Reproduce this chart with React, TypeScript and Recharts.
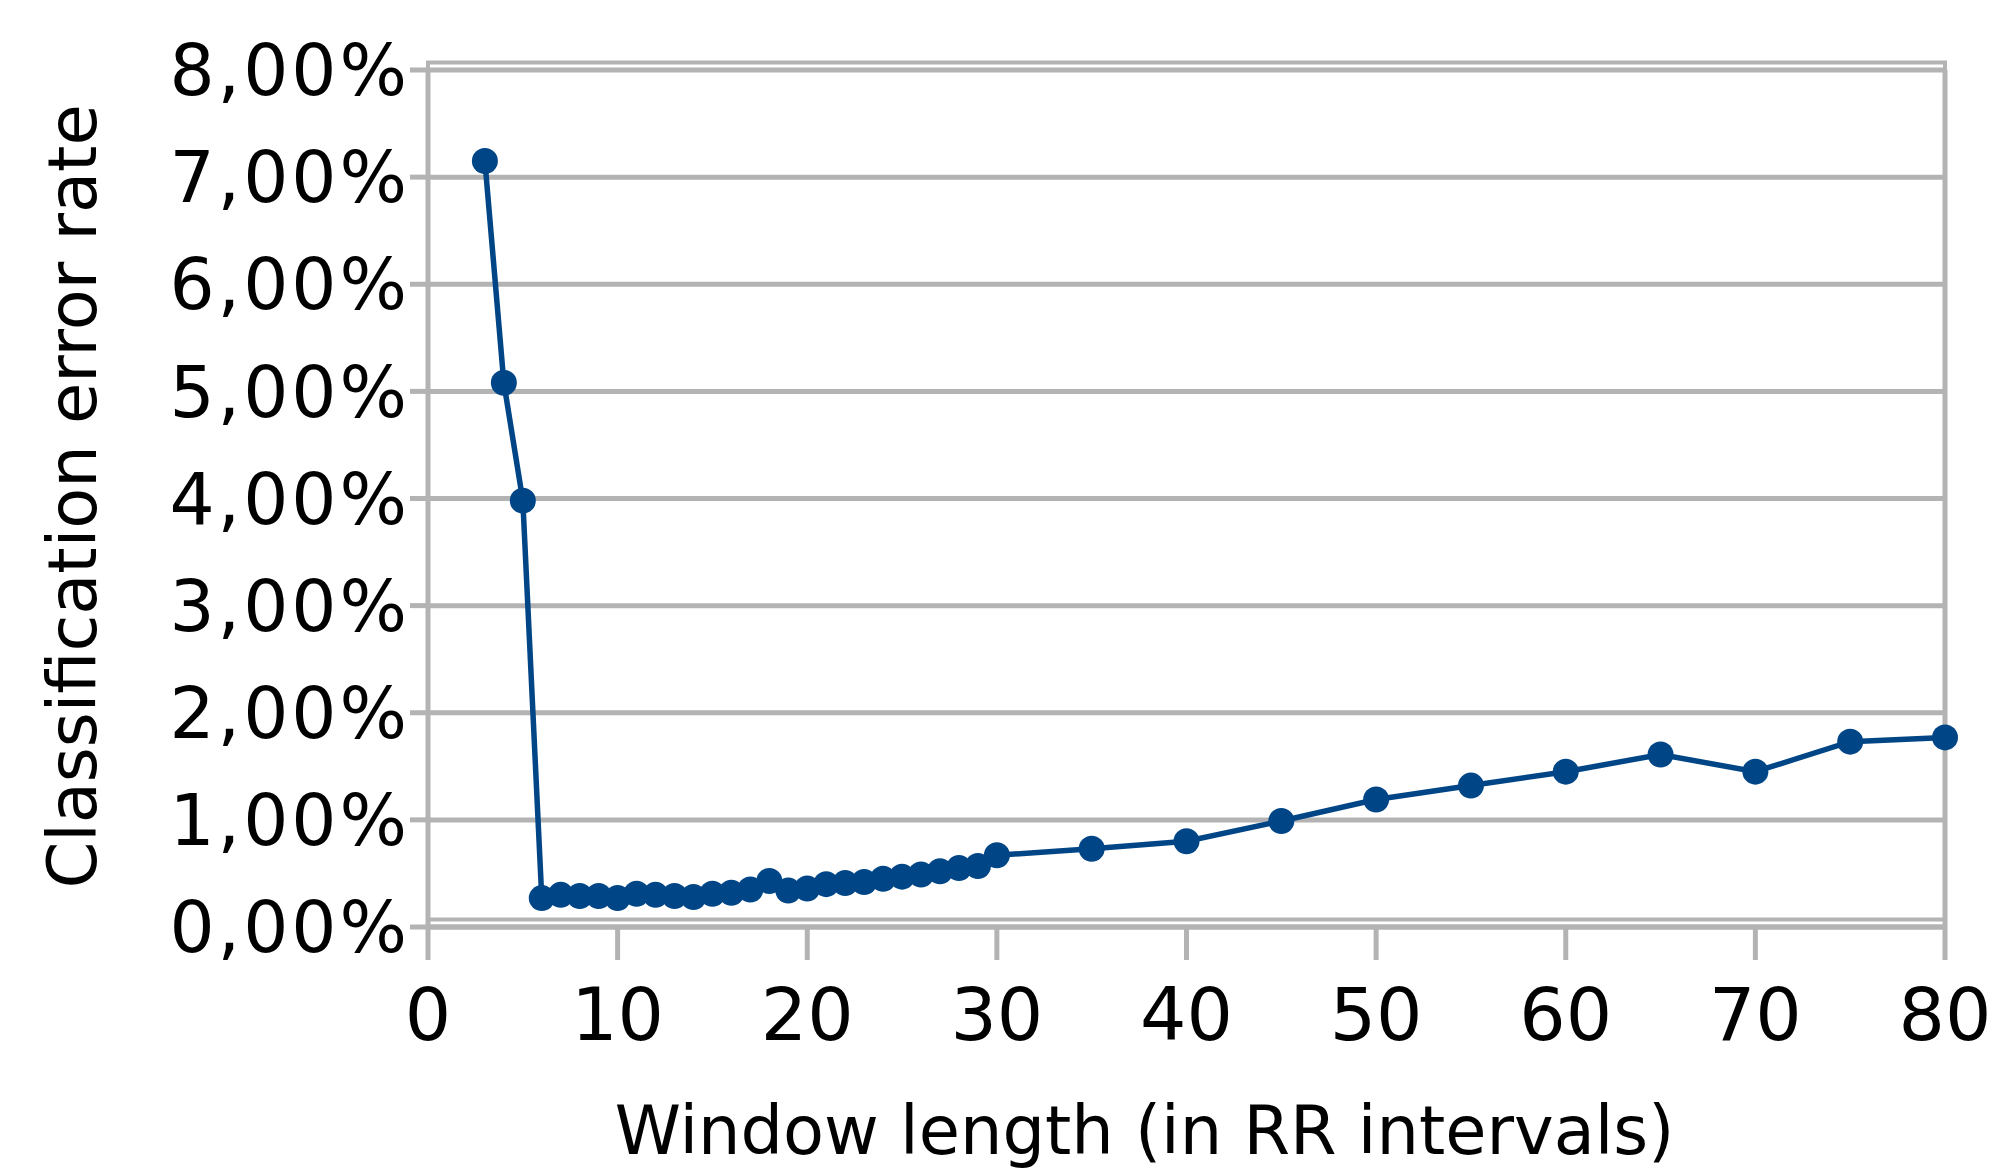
import { LineChart, Line, XAxis, YAxis, CartesianGrid, ReferenceLine, ReferenceArea, Label } from 'recharts';

const windowLengths = [
  3, 4, 5, 6, 7, 8, 9, 10, 11, 12, 13, 14, 15, 16, 17, 18, 19, 20, 21, 22, 23, 24, 25, 26, 27, 28, 29, 30,
  35, 40, 45, 50, 55, 60, 65, 70, 75, 80,
];

const errorRates = [
  7.15, 5.08, 3.98, 0.27, 0.3, 0.29, 0.29, 0.27, 0.31, 0.3, 0.29, 0.28, 0.31, 0.32, 0.35, 0.43, 0.34, 0.36,
  0.4, 0.41, 0.42, 0.45, 0.47, 0.49, 0.52, 0.55, 0.57, 0.67, 0.73, 0.8, 0.99, 1.19, 1.32, 1.45, 1.61, 1.45,
  1.73, 1.77,
];

const xTicks = [0, 10, 20, 30, 40, 50, 60, 70, 80];
const yTicks = [0, 1, 2, 3, 4, 5, 6, 7, 8];

const data = windowLengths.map((w, i) => ({ window: w, rate: errorRates[i] }));

const gridColor = '#b3b3b3';
const lineColor = '#004586';
const font = '"DejaVu Sans", Verdana, sans-serif';

const formatPercent = (v: number) => v.toFixed(2).replace('.', ',') + '%';

export default function App() {
  return (
    <div style={{ position: 'absolute', left: 0, top: 0, width: 2005, height: 1169, background: '#fff' }}>
      <LineChart
        width={2005}
        height={1169}
        data={data}
        margin={{ top: 70, right: 60, bottom: 0, left: 0 }}
        style={{ fontFamily: font }}
      >
        <CartesianGrid vertical={false} stroke={gridColor} strokeWidth={5} />
        <ReferenceArea
          x1={0}
          x2={80}
          y1={0.07}
          y2={8.07}
          ifOverflow="visible"
          fill="none"
          stroke={gridColor}
          strokeWidth={4}
        />
        <ReferenceLine x={80} stroke={gridColor} strokeWidth={5} />
        <XAxis
          dataKey="window"
          type="number"
          domain={[0, 80]}
          ticks={xTicks}
          height={242}
          stroke={gridColor}
          strokeWidth={5}
          tickSize={33}
          tickMargin={28}
          tick={{ fontSize: 73, fill: '#000', fontFamily: font }}
        >
          <Label
            content={(props: any) => {
              const vb = props.viewBox;
              return (
                <text
                  x={vb.x + vb.width / 2 - 42}
                  y={vb.y + vb.height - 15}
                  textAnchor="middle"
                  fontSize={67}
                  fontFamily={font}
                  fill="#000"
                >
                  Window length (in RR intervals)
                </text>
              );
            }}
          />
        </XAxis>
        <YAxis
          type="number"
          domain={[0, 8]}
          ticks={yTicks}
          width={428}
          stroke={gridColor}
          strokeWidth={5}
          tickSize={18}
          tickMargin={0}
          tickFormatter={formatPercent}
          tick={{ fontSize: 71, fill: '#000', fontFamily: font, letterSpacing: 3 }}
        >
          <Label
            content={(props: any) => {
              const vb = props.viewBox;
              const cx = vb.x + 73;
              const cy = vb.y + vb.height / 2 - 2;
              return (
                <text
                  x={cx}
                  y={cy}
                  transform={`rotate(-90 ${cx} ${cy})`}
                  textAnchor="middle"
                  dominantBaseline="central"
                  fontSize={67}
                  fontFamily={font}
                  fill="#000"
                >
                  Classification error rate
                </text>
              );
            }}
          />
        </YAxis>
        <Line
          type="linear"
          dataKey="rate"
          stroke={lineColor}
          strokeWidth={5.5}
          dot={{ r: 13, fill: lineColor, stroke: lineColor, strokeWidth: 0 }}
          activeDot={false}
          isAnimationActive={false}
        />
      </LineChart>
    </div>
  );
}
